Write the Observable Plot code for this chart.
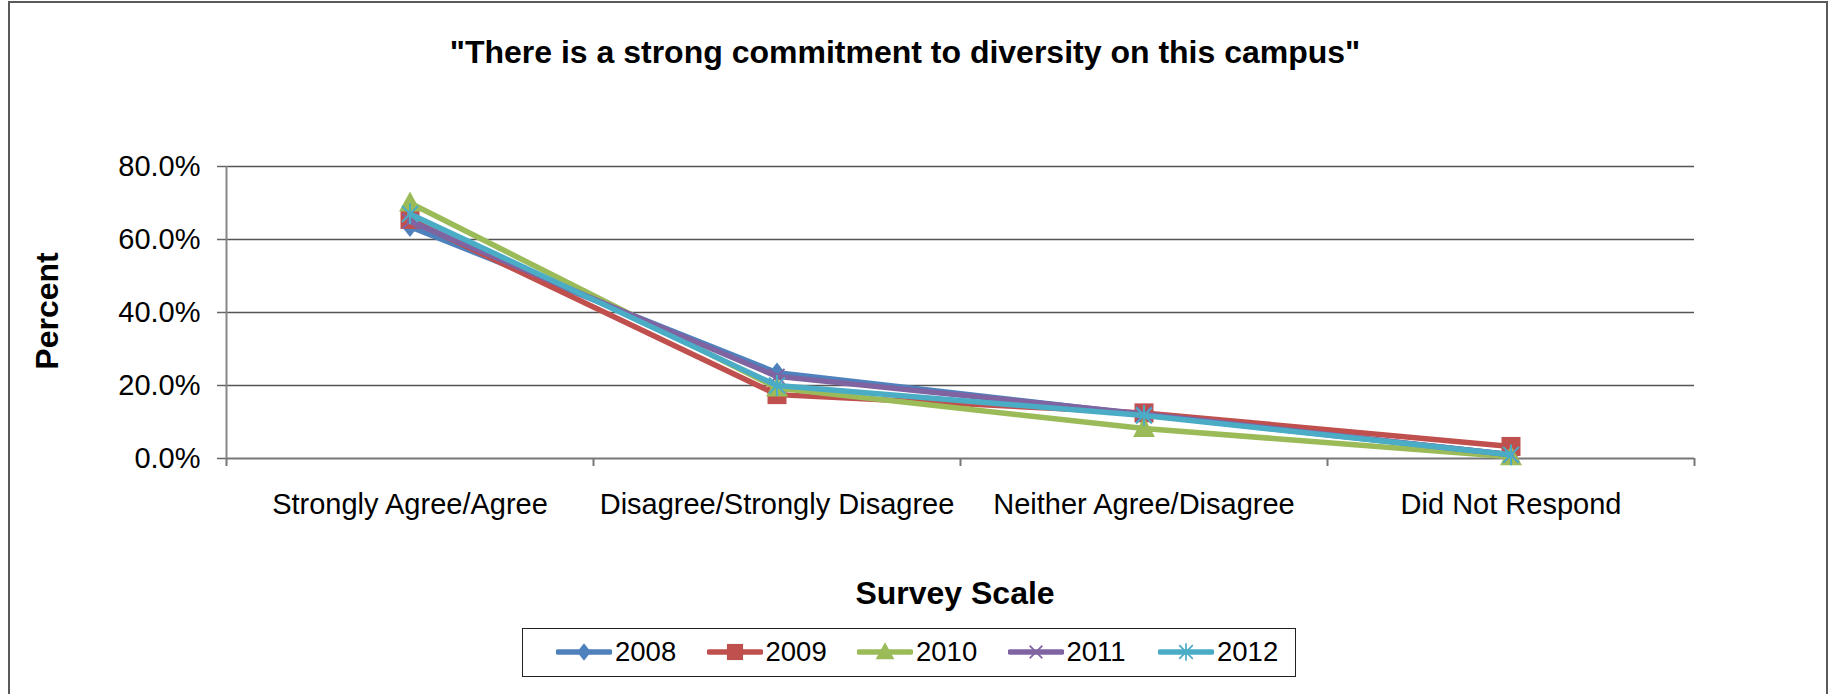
<!DOCTYPE html>
<html>
<head>
<meta charset="utf-8">
<script src="https://cdn.jsdelivr.net/npm/d3@7"></script>
<script src="https://cdn.jsdelivr.net/npm/@observablehq/plot@0.6"></script>
<style>
  html, body { margin: 0; padding: 0; background: #fff; overflow: hidden; }
  body { width: 1837px; height: 694px; font-family: "Liberation Sans", Arial, sans-serif; }
  #wrap { position: relative; width: 1837px; height: 694px; }
  #chart { position: absolute; left: 0; top: 0; }
  .abs { position: absolute; white-space: nowrap; color: #000; }
  #border { position: absolute; left: 8px; top: 1px; width: 1820px; height: 760px; border: 2px solid #5a5a5a; box-sizing: border-box; }
  #title { left: 905px; top: 52px; transform: translate(-50%, -50%); font-size: 32px; font-weight: bold; }
  #xtitle { left: 955px; top: 593px; transform: translate(-50%, -50%); font-size: 32px; font-weight: bold; }
  #ytitle { left: 47px; top: 311px; transform: translate(-50%, -50%) rotate(-90deg); font-size: 32px; font-weight: bold; }
  #legend { position: absolute; left: 522px; top: 628px; width: 774px; height: 49px; border: 1.5px solid #222; box-sizing: border-box; }
  .item { position: absolute; top: 0; height: 46px; display: flex; align-items: center; font-size: 27.5px; }
  .item svg { display: block; margin-right: 3px; }
</style>
</head>
<body>
<div id="wrap">
  <div id="chart"></div>
  <div id="border"></div>
  <div class="abs" id="title">"There is a strong commitment to diversity on this campus"</div>
  <div class="abs" id="xtitle">Survey Scale</div>
  <div class="abs" id="ytitle">Percent</div>
  <div id="legend"></div>
</div>
<script>
// ---- data (percent) ----
const categories = ["Strongly Agree/Agree", "Disagree/Strongly Disagree", "Neither Agree/Disagree", "Did Not Respond"];
const years = ["2008", "2009", "2010", "2011", "2012"];
const v2008 = [63.5, 23.5, 12.0, 1.0];
const v2009 = [65.5, 17.5, 12.5, 3.3];
const v2010 = [70.0, 19.3, 8.2, 0.5];
const v2011 = [65.0, 22.5, 12.2, 1.0];
const v2012 = [67.0, 20.0, 11.8, 1.0];
const yTicks = [0, 20, 40, 60, 80];

const seriesValues = [v2008, v2009, v2010, v2011, v2012];
const colors = ["#4F81BD", "#C0504D", "#9BBB59", "#8064A2", "#4BACC6"];

// custom excel-like symbols
const symX = { draw(ctx, size) { const s = Math.sqrt(size / Math.PI);
  ctx.moveTo(-s, -s); ctx.lineTo(s, s); ctx.moveTo(s, -s); ctx.lineTo(-s, s); } };
const symStar = { draw(ctx, size) { const s = Math.sqrt(size / Math.PI);
  ctx.moveTo(-s, -s); ctx.lineTo(s, s); ctx.moveTo(s, -s); ctx.lineTo(-s, s);
  ctx.moveTo(0, -s * 1.3); ctx.lineTo(0, s * 1.3); } };
const symTri = { draw(ctx, size) { const s = Math.sqrt(size / Math.PI);
  ctx.moveTo(0, -s * 1.15); ctx.lineTo(s * 1.1, s * 0.85); ctx.lineTo(-s * 1.1, s * 0.85); ctx.closePath(); } };
const symDiamond = { draw(ctx, size) { const s = Math.sqrt(size / Math.PI);
  ctx.moveTo(0, -s * 1.15); ctx.lineTo(s * 0.9, 0); ctx.lineTo(0, s * 1.15); ctx.lineTo(-s * 0.9, 0); ctx.closePath(); } };
const symSquare = { draw(ctx, size) { const s = Math.sqrt(size / Math.PI);
  ctx.rect(-s, -s, 2 * s, 2 * s); } };

const markers = [
  { symbol: symDiamond, r: 9, filled: true },
  { symbol: symSquare, r: 9.5, filled: true },
  { symbol: symTri, r: 10, filled: true },
  { symbol: symX, r: 7.5, filled: false },
  { symbol: symStar, r: 8, filled: false }
];

const rows = [];
years.forEach((yr, s) => seriesValues[s].forEach((v, i) => rows.push({ year: yr, idx: i + 0.5, value: v / 100 })));

const marks = [
  Plot.gridY(yTicks.slice(1).map(d => d / 100), { stroke: "#555", strokeOpacity: 1, strokeWidth: 1.4 }),
  Plot.ruleY([0], { stroke: "#777", strokeWidth: 2 }),
  Plot.ruleX([0], { stroke: "#888", strokeWidth: 2 }),
  Plot.axisY(yTicks.map(d => d / 100), { tickSize: 9, tickPadding: 17, tickFormat: d => (d * 100).toFixed(1) + "%", fontSize: 29, stroke: "#666", strokeWidth: 1.5, label: null }),
  Plot.axisX([0, 1, 2, 3, 4], { tickSize: 8, tickFormat: () => "", stroke: "#777", strokeWidth: 2, label: null }),
  Plot.axisX([0.5, 1.5, 2.5, 3.5], { tickSize: 0, tickPadding: 35, tickFormat: d => categories[Math.floor(d)], fontSize: 29, label: null })
];

years.forEach((yr, s) => {
  const data = rows.filter(r => r.year === yr);
  marks.push(Plot.line(data, { x: "idx", y: "value", stroke: colors[s], strokeWidth: 5.5, strokeLinejoin: "round", strokeLinecap: "round" }));
  const m = markers[s];
  marks.push(Plot.dot(data, m.filled
    ? { x: "idx", y: "value", symbol: () => m.symbol, r: m.r, fill: colors[s], stroke: "none" }
    : { x: "idx", y: "value", symbol: () => m.symbol, r: m.r, fill: "none", stroke: colors[s], strokeWidth: 2 }));
});

const chart = Plot.plot({
  width: 1837,
  height: 694,
  marginLeft: 226,
  marginRight: 143,
  marginTop: 166,
  marginBottom: 236,
  style: { fontFamily: "'Liberation Sans', Arial, sans-serif", background: "transparent", color: "#000" },
  x: { type: "linear", domain: [0, 4], axis: null },
  y: { domain: [0, 0.8], axis: null },
  symbol: { type: "identity" },
  marks
});
document.getElementById("chart").appendChild(chart);

// ---- legend ----
const legend = document.getElementById("legend");
const symPaths = markers.map(m => {
  const p = d3.path();
  m.symbol.draw(p, m.r * m.r * Math.PI);
  return p.toString();
});
years.forEach((yr, s) => {
  const div = document.createElement("div");
  div.className = "item";
  div.style.left = (33 + s * 150.5) + "px";
  const m = markers[s];
  div.innerHTML = `<svg width="56" height="30" viewBox="-28 -15 56 30">
    <line x1="-26" x2="26" y1="0" y2="0" stroke="${colors[s]}" stroke-width="5.5" stroke-linecap="round"/>
    <path d="${symPaths[s]}" ${m.filled ? `fill="${colors[s]}"` : `fill="none" stroke="${colors[s]}" stroke-width="2"`} transform="scale(0.85)"/>
  </svg><span>${yr}</span>`;
  legend.appendChild(div);
});
</script>
</body>
</html>
